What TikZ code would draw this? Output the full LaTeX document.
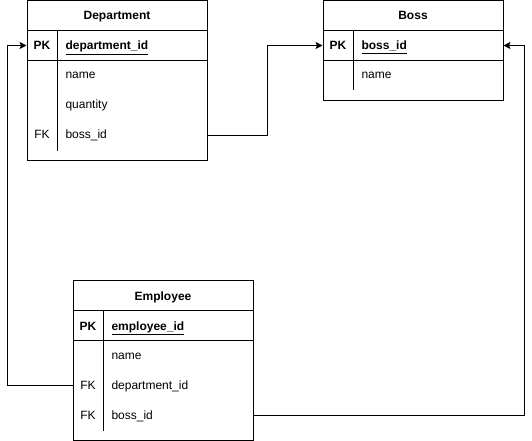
\documentclass[tikz,border=0pt]{standalone}
\usepackage{fontspec}
\setmainfont{Liberation Sans}
\usetikzlibrary{arrows.meta}
\begin{document}
\begin{tikzpicture}[x=1pt,y=-1pt,line width=1pt,
  txt/.style={font=\fontsize{12pt}{14pt}\selectfont, inner sep=0pt, text=black, anchor=base},
  title/.style={txt, font=\fontsize{12pt}{14pt}\selectfont\bfseries},
  keytxt/.style={txt},
  pktxt/.style={txt, font=\fontsize{12pt}{14pt}\selectfont\bfseries},
  field/.style={txt, anchor=base west},
  pkfield/.style={txt, anchor=base west, font=\fontsize{12pt}{14pt}\selectfont\bfseries},
  rowbox/.style={minimum width=180pt, minimum height=30pt, inner sep=0pt},
  link/.style={draw=black, line width=1pt, -{Stealth[length=7pt,width=7pt,inset=1.5pt]}}
]
\useasboundingbox (0,0) rectangle (532,441);
% ---------- Department ----------
\draw (27,0.5) rectangle (207,160.5);
\draw (27,30.5) -- (207,30.5);
\draw (27,60.5) -- (207,60.5);
\draw (57,30.5) -- (57,150.5);
\node[title] (dep-title) at (117,20) {Department};
\node[rowbox] (dep-pk) at (117,45.5) {};
\node[rowbox] (dep-name) at (117,75.5) {};
\node[rowbox] (dep-qty) at (117,105.5) {};
\node[rowbox] (dep-boss) at (117,135.5) {};
\node[pktxt] (dep-pk-k) at (42,50) {PK};
\node[pkfield] (dep-pk-f) at (65,50) {\underline{department\_id}};
\node[field] (dep-name-f) at (65,79) {name};
\node[field] (dep-qty-f) at (65,109) {quantity};
\node[keytxt] (dep-boss-k) at (42,139) {FK};
\node[field] (dep-boss-f) at (65,139) {boss\_id};
% ---------- Boss ----------
\draw (323,0.5) rectangle (503,100.5);
\draw (323,30.5) -- (503,30.5);
\draw (323,60.5) -- (503,60.5);
\draw (353,30.5) -- (353,90.5);
\node[title] (boss-title) at (413,20) {Boss};
\node[rowbox] (boss-pk) at (413,45.5) {};
\node[rowbox] (boss-name) at (413,75.5) {};
\node[pktxt] (boss-pk-k) at (338,50) {PK};
\node[pkfield] (boss-pk-f) at (361,50) {\underline{boss\_id}};
\node[field] (boss-name-f) at (361,79) {name};
% ---------- Employee ----------
\draw (73,280.5) rectangle (253,440.5);
\draw (73,310.5) -- (253,310.5);
\draw (73,340.5) -- (253,340.5);
\draw (103,310.5) -- (103,430.5);
\node[title] (emp-title) at (163,300) {Employee};
\node[rowbox] (emp-pk) at (163,325.5) {};
\node[rowbox] (emp-name) at (163,355.5) {};
\node[rowbox] (emp-dep) at (163,385.5) {};
\node[rowbox] (emp-boss) at (163,415.5) {};
\node[pktxt] (emp-pk-k) at (88,330) {PK};
\node[pkfield] (emp-pk-f) at (111,330) {\underline{employee\_id}};
\node[field] (emp-name-f) at (111,359) {name};
\node[keytxt] (emp-dep-k) at (88,389) {FK};
\node[field] (emp-dep-f) at (111,389) {department\_id};
\node[keytxt] (emp-boss-k) at (88,419) {FK};
\node[field] (emp-boss-f) at (111,419) {boss\_id};
% ---------- connectors ----------
\coordinate (via1) at (267.5,0);
\coordinate (via2) at (7.5,0);
\coordinate (via3) at (524.5,0);
\draw[link] (dep-boss.east) -- (dep-boss.east -| via1) |- (boss-pk.west);
\draw[link] (emp-dep.west) -- (emp-dep.west -| via2) |- (dep-pk.west);
\draw[link] (emp-boss.east) -- (emp-boss.east -| via3) |- (boss-pk.east);
\end{tikzpicture}
\end{document}
